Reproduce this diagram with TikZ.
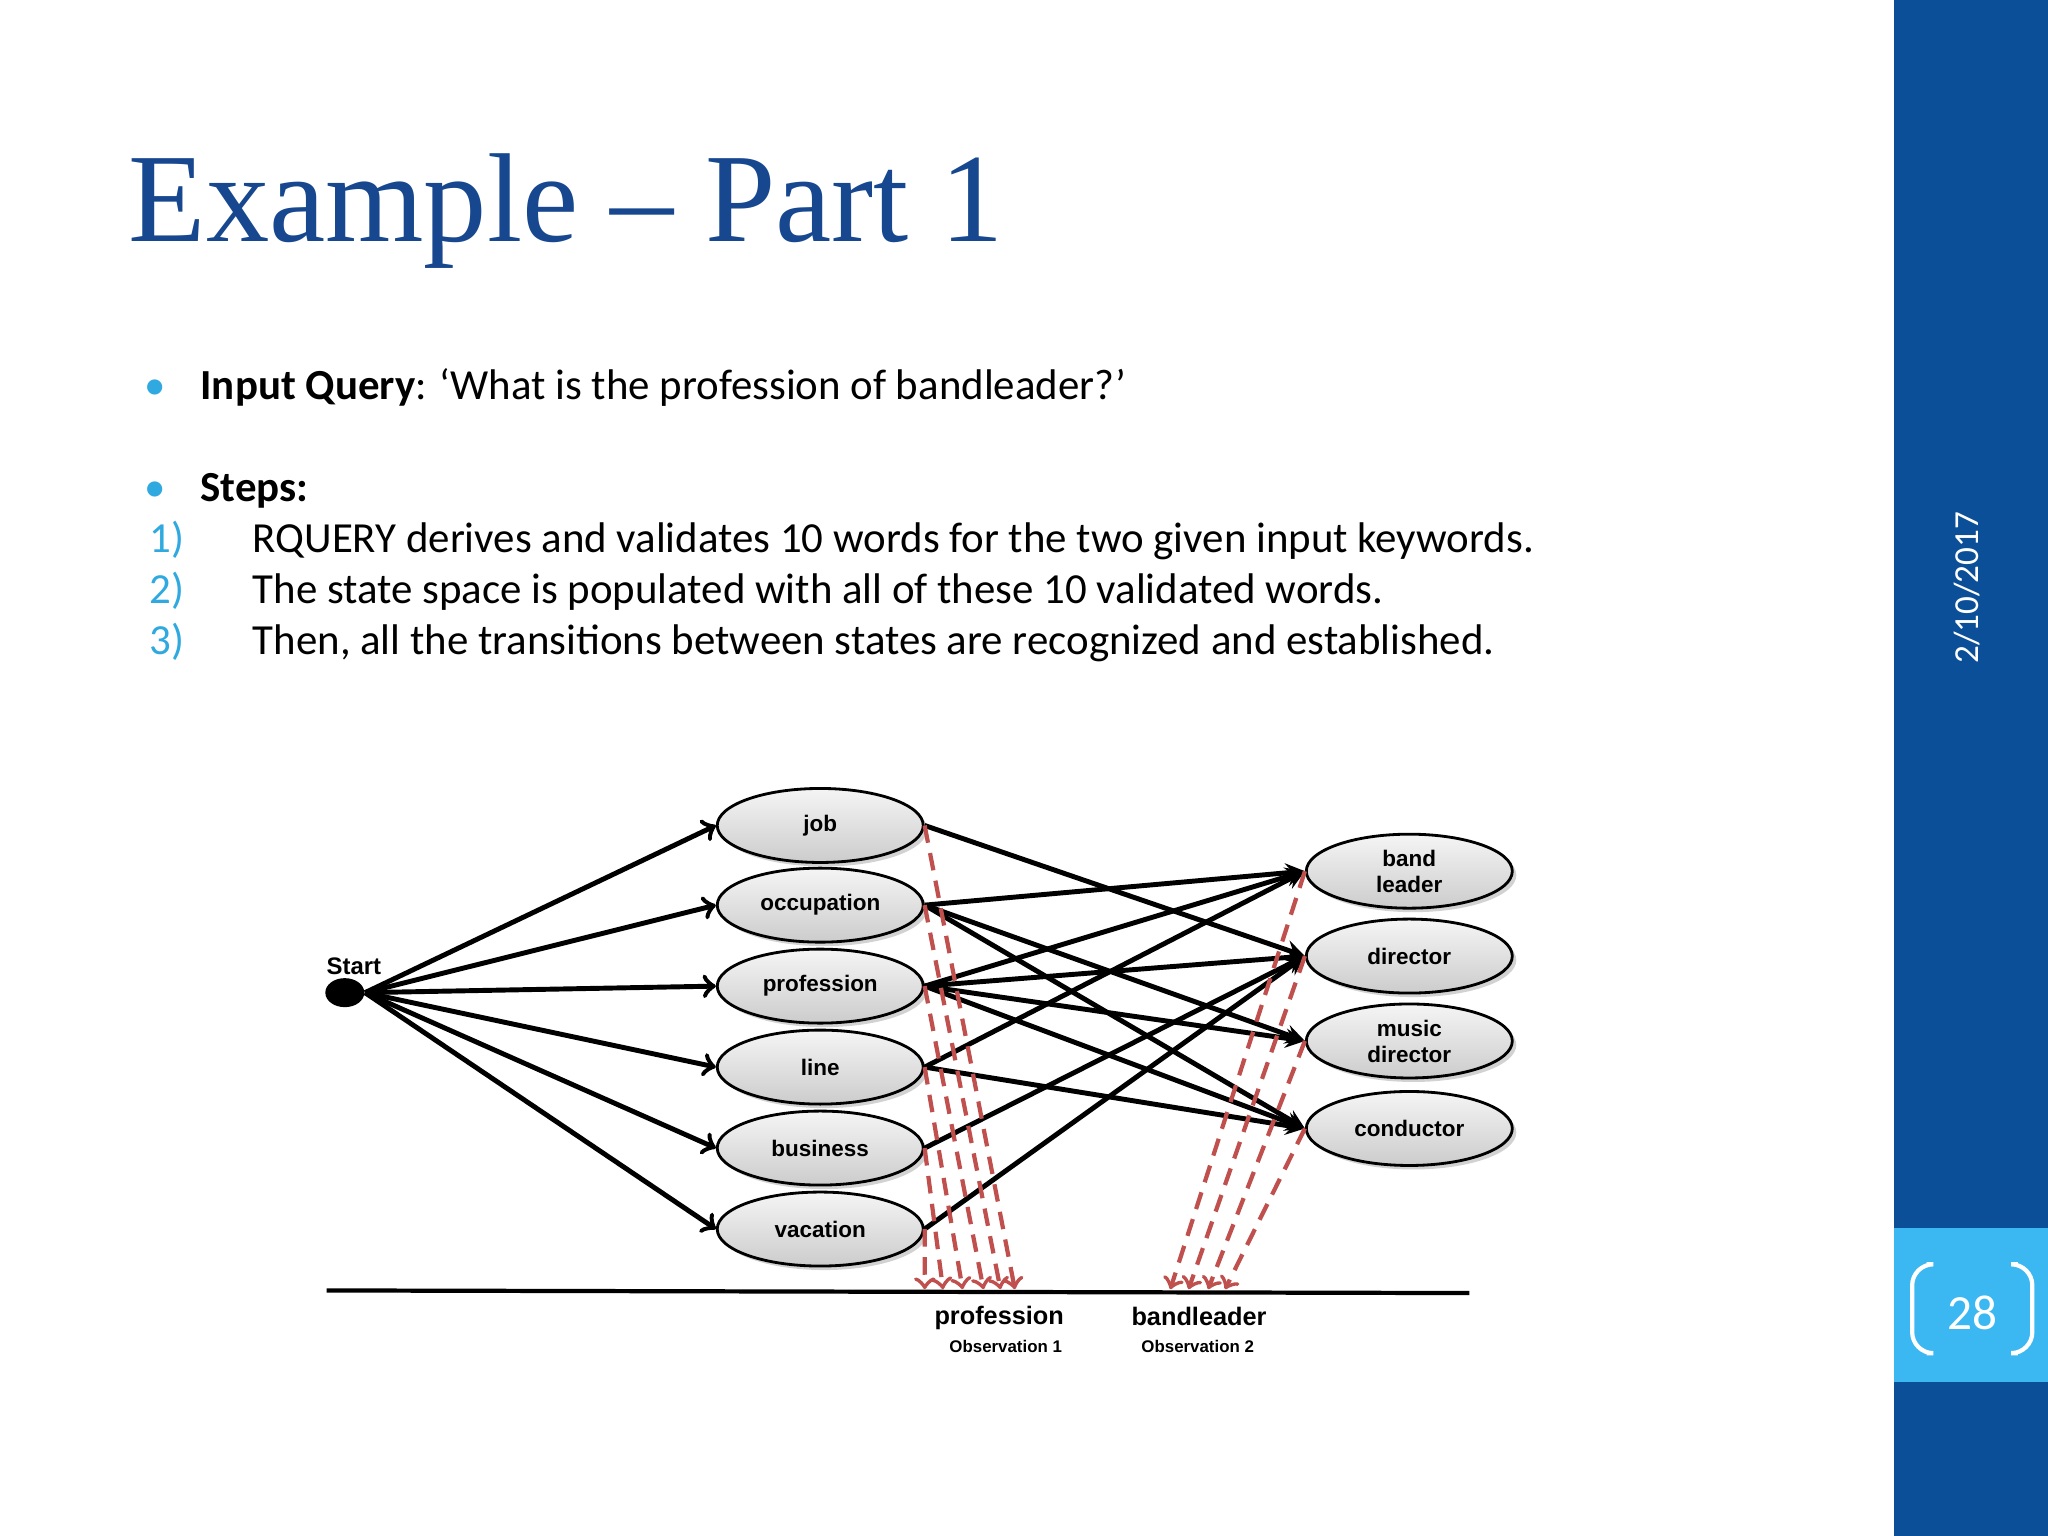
\documentclass[tikz,border=0pt]{standalone}
\usepackage{fontspec}
\setmainfont{Carlito}
\newfontfamily\titlefont{Liberation Serif}
\newfontfamily\diagfont{Liberation Sans}
\usetikzlibrary{shapes.geometric,shadows}
\definecolor{titleblue}{HTML}{17478E}
\definecolor{barblue}{HTML}{0A4F97}
\definecolor{boxblue}{HTML}{3BB8F2}
\definecolor{bulletblue}{HTML}{2FA9E0}
\definecolor{obsred}{HTML}{C0504D}
\tikzset{
  state/.style={ellipse,draw=black,thick,minimum width=2.06cm,minimum height=0.74cm,
    inner sep=0pt,top color=gray!8,bottom color=gray!40,
    drop shadow={shadow xshift=0.04cm,shadow yshift=-0.04cm,opacity=0.35},
    font=\diagfont\bfseries\fontsize{6.4}{7.4}\selectfont,align=center},
  trans/.style={line width=1.4pt,-stealth},
  entry/.style={line width=1.4pt,-to},
  obs/.style={obsred,line width=1.2pt,dash pattern=on 5pt off 3pt,-to},
  body/.style={anchor=base west,font=\fontsize{12.2}{14}\selectfont}
}
\begin{document}
\begin{tikzpicture}[x=0.013061cm,y=-0.013061cm]
  \useasboundingbox (0,0) rectangle (1568,1176);
  \fill[white] (0,0) rectangle (1568,1176);
  \fill[barblue] (1450,0) rectangle (1568,1176);
  \fill[boxblue] (1450,940) rectangle (1568,1058);
  \draw[white,line width=1.2pt,rounded corners=6pt] (1475,968) -- (1464,968) -- (1464,1036) -- (1475,1036);
  \draw[white,line width=1.2pt,rounded corners=6pt] (1545,968) -- (1556,968) -- (1556,1036) -- (1545,1036);
  \node[white,font=\fontsize{14}{16}\selectfont] (page) at (1510,1005) {28};
  \node[white,rotate=90,font=\fontsize{10}{12}\selectfont] (date) at (1506,450) {2/10/2017};
  % title and text
  \node[anchor=base west,titleblue,inner sep=0pt,font=\titlefont\fontsize{36}{40}\selectfont] (title) at (98,185) {Example \textendash{} Part 1};
  \node[bulletblue,anchor=base,font=\fontsize{12.2}{14}\selectfont] (b1) at (119,306) {\textbullet};
  \node[body,inner sep=0pt] (query) at (153,306) {\textbf{Input Query}: `What is the profession of bandleader?'};
  \node[bulletblue,anchor=base,font=\fontsize{12.2}{14}\selectfont] (b2) at (119,384) {\textbullet};
  \node[body,inner sep=0pt] (steps) at (153,384) {\textbf{Steps:}};
  \foreach \n/\y/\t in {1/423/RQUERY derives and validates 10 words for the two given input keywords.,
      2/462/The state space is populated with all of these 10 validated words.,
      3/501/{Then, all the transitions between states are recognized and established.}} {
    \node[body,inner sep=0pt,bulletblue] (num\n) at (114,\y) {\n)};
    \node[body,inner sep=0pt] (step\n) at (193,\y) {\t};
  }
  % states
  \node[ellipse,fill=black,minimum width=0.39cm,minimum height=0.29cm,inner sep=0pt] (start) at (264,760) {};
  \node[font=\diagfont\bfseries\fontsize{6.8}{7.4}\selectfont] (startlbl) at (271,740) {Start};
  \node[state] (job) at (628,632) {job};
  \node[state] (occupation) at (628,693) {occupation};
  \node[state] (profession) at (628,755) {profession};
  \node[state] (line) at (628,817) {line};
  \node[state] (business) at (628,879) {business};
  \node[state] (vacation) at (628,941) {vacation};
  \node[state] (bandleader) at (1079,667) {band\\leader};
  \node[state] (director) at (1079,732) {director};
  \node[state] (musicdir) at (1079,797) {music\\director};
  \node[state] (conductor) at (1079,864) {conductor};
  % start transitions
  \foreach \s in {job,occupation,profession,line,business,vacation}
    \draw[entry] (start.east) -- (\s.west);
  % word transitions
  \foreach \a/\b in {job/director,occupation/bandleader,occupation/musicdir,occupation/conductor,
      profession/bandleader,profession/director,profession/musicdir,profession/conductor,
      line/bandleader,line/conductor,business/director,vacation/director}
    \draw[trans] (\a.east) -- (\b.west);
  % observations
  \coordinate (axisL) at (250,988);
  \coordinate (axisR) at (1125,990);
  \draw[line width=1.2pt] (axisL) -- (axisR);
  \foreach \s/\x in {job/777,occupation/766,profession/753,line/737,business/722,vacation/708}
    \coordinate (o1\s) at (\x,987);
  \foreach \s/\x in {bandleader/896,director/910,musicdir/925,conductor/938}
    \coordinate (o2\s) at (\x,987);
  \foreach \s in {job,occupation,profession,line,business,vacation}
    \draw[obs] (\s.east) -- (o1\s);
  \foreach \s in {bandleader,director,musicdir,conductor}
    \draw[obs] (\s.west) -- (o2\s);
  \node[font=\diagfont\bfseries\fontsize{7.2}{8}\selectfont] (obs1) at (765,1009) {profession};
  \node[font=\diagfont\bfseries\fontsize{4.8}{5}\selectfont] (obs1b) at (770,1031) {Observation 1};
  \node[font=\diagfont\bfseries\fontsize{7.2}{8}\selectfont] (obs2) at (918,1008) {bandleader};
  \node[font=\diagfont\bfseries\fontsize{4.8}{5}\selectfont] (obs2b) at (917,1031) {Observation 2};
\end{tikzpicture}
\end{document}
